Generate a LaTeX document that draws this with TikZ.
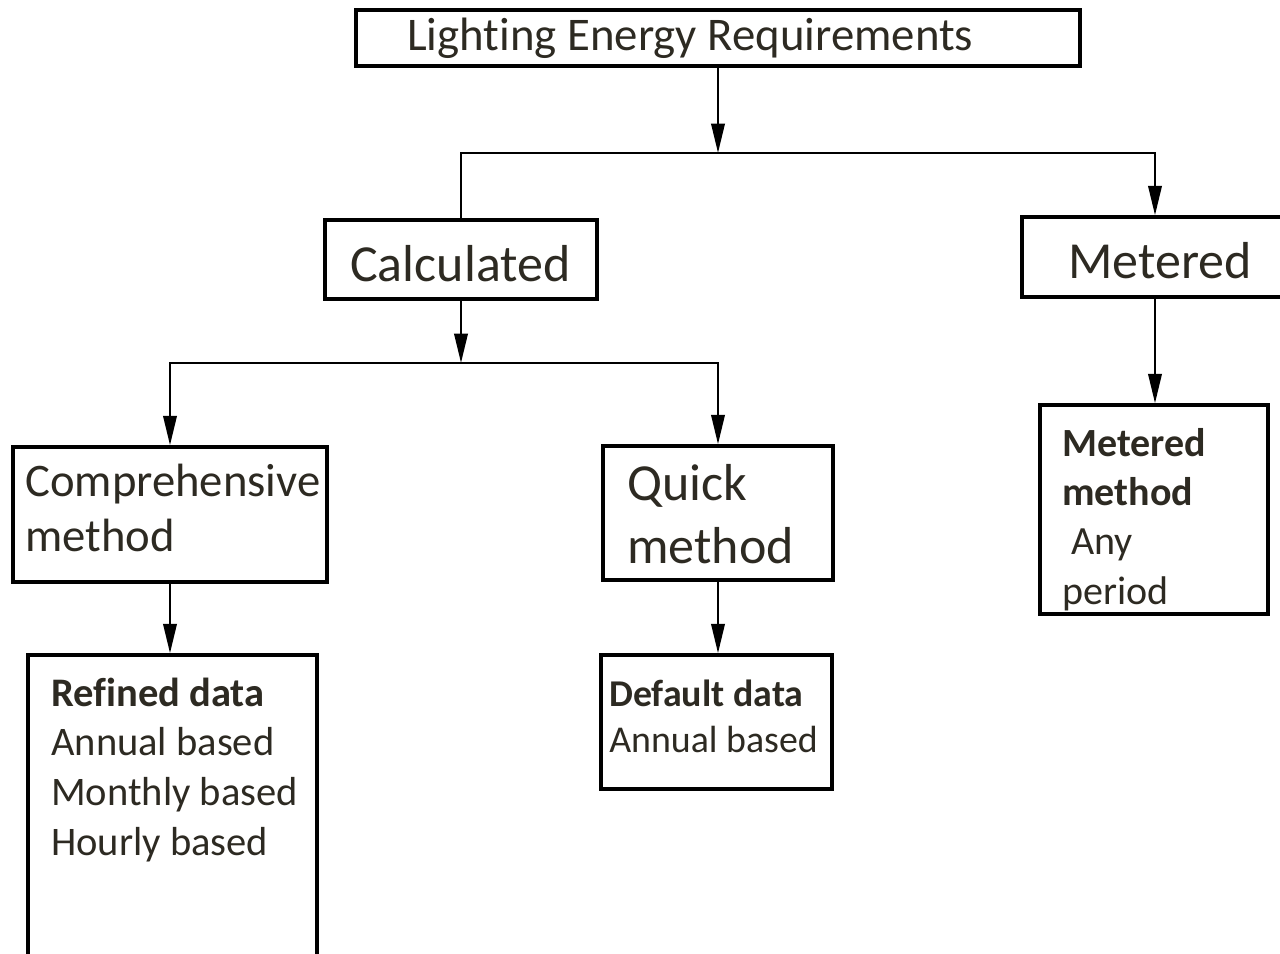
\documentclass[tikz,border=0pt]{standalone}
\usepackage{fontspec}
\setmainfont{Carlito}[Ligatures=NoCommon,Contextuals=NoAlternate]
\usetikzlibrary{arrows.meta,fit}
\definecolor{txtcol}{RGB}{45,42,34}
\begin{document}
\begin{tikzpicture}
        [x=0.75pt,y=-0.75pt,
         box/.style={draw,line width=2.6pt,inner sep=0pt},
         txt/.style={inner sep=0pt,anchor=base west,align=left,text=txtcol},
         con/.style={line width=1.9pt},
         arr/.style={con,-{Triangle[length=22pt,width=10pt]}}]
        \useasboundingbox (0,0) rectangle (1280,953);
        \clip (0,0) rectangle (1280,953);

        \node[box,fit={(356,10) (1080,66)}] (req) {};
        \node[box,fit={(325,220) (597,299)}] (calc) {};
        \node[box,fit={(1022,217) (1288,297)}] (meter) {};
        \node[box,fit={(13,447) (327,582)}] (comp) {};
        \node[box,fit={(603,446) (833,580)}] (quick) {};
        \node[box,fit={(28,655) (317,990)}] (refined) {};
        \node[box,fit={(601,655) (832,789)}] (default) {};
        \node[box,fit={(1040,405) (1268,614)}] (metm) {};

        \node[txt,font=\fontsize{35.1pt}{42pt}\selectfont] (reqtxt) at (407,50) {Lighting Energy Requirements};
        \node[txt,font=\fontsize{39pt}{47pt}\selectfont] (calctxt) at (350,281) {Calculated};
        \node[txt,font=\fontsize{39pt}{47pt}\selectfont] (metertxt) at (1068,278) {Metered};
        \node[txt,font=\fontsize{35pt}{41pt}\selectfont] (comptxt) at (25,551) {Comprehensive\\method};
        \node[txt,font=\fontsize{39pt}{47pt}\selectfont] (quicktxt) at (627,563) {Quick\\method};
        \node[txt,font=\fontsize{30.4pt}{37.2pt}\selectfont] (refinedtxt) at (51,855)
          {\textbf{Refined data}\\Annual based\\Monthly based\\Hourly based};
        \node[txt,font=\fontsize{28.4pt}{33.8pt}\selectfont] (defaulttxt) at (609,752)
          {\textbf{Default data}\\Annual based};
        \node[txt,font=\fontsize{30pt}{37pt}\selectfont] (metmtxt) at (1062,604)
          {\textbf{Metered}\\\textbf{method}\\~Any\\period};

        \coordinate (s1) at (718,153);
        \coordinate (s2) at (461,363);

        \draw[arr] (req.south) -- (s1);
        \draw[con] (s1) -| (calc.north);
        \draw[arr] (s1) -| (meter.north);
        \draw[arr] (calc.south) -- (s2);
        \draw[arr] (s2) -| (comp.north);
        \draw[arr] (s2) -| (quick.north);
        \draw[arr] (comp.south) -- (comp.south |- refined.north);
        \draw[arr] (quick.south) -- (quick.south |- default.north);
        \draw[arr] (meter.south) -- (meter.south |- metm.north);
      \end{tikzpicture}
\end{document}
